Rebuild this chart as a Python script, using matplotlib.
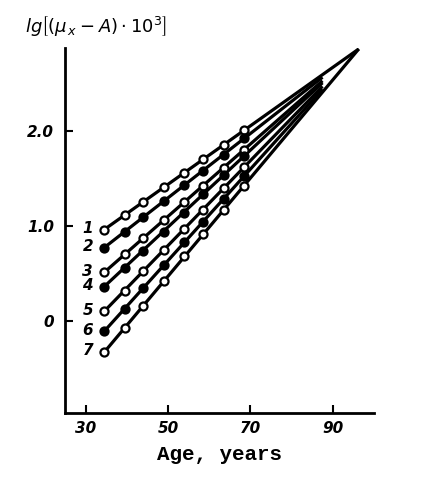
import matplotlib
matplotlib.use("Agg")
import matplotlib.pyplot as plt

# ages of the plotted points
ages = [34.5, 39.5, 44, 49, 54, 58.5, 63.5, 68.5]

# lg[(mu_x - A) * 10^3] for each curve
curve1 = [0.96, 1.11, 1.25, 1.41, 1.56, 1.70, 1.85, 2.01]
curve2 = [0.77, 0.94, 1.09, 1.26, 1.43, 1.58, 1.75, 1.92]
curve3 = [0.51, 0.70, 0.87, 1.06, 1.25, 1.42, 1.61, 1.80]
curve4 = [0.36, 0.56, 0.74, 0.94, 1.14, 1.33, 1.53, 1.73]
curve5 = [0.10, 0.32, 0.52, 0.75, 0.97, 1.17, 1.40, 1.62]
curve6 = [-0.11, 0.13, 0.35, 0.59, 0.83, 1.04, 1.28, 1.52]
curve7 = [-0.33, -0.07, 0.16, 0.42, 0.68, 0.91, 1.17, 1.42]
curves = [curve1, curve2, curve3, curve4, curve5, curve6, curve7]
labels = ["1", "2", "3", "4", "5", "6", "7"]
filled = [False, True, False, True, False, True, False]

# common point where the extrapolated lines meet
conv_age, conv_lg = 96.3, 2.86
inner_end_age = 87.5

xticks = [30, 50, 70, 90]
yticks = [0, 1.0, 2.0]
yticklabels = ["0", "1.0", "2.0"]

fig = plt.figure(figsize=(4.24, 4.8), dpi=100)
ax = fig.add_axes([65 / 424, 67 / 480, 309 / 424, 365 / 480])

for i, (vals, lab, fill) in enumerate(zip(curves, labels, filled)):
    a0, v0 = ages[0], vals[0]
    if i in (0, len(curves) - 1):
        xe, ye = conv_age, conv_lg
    else:
        t = (inner_end_age - a0) / (conv_age - a0)
        xe, ye = inner_end_age, v0 + t * (conv_lg - v0)
    ax.plot([a0, xe], [v0, ye], color="black", lw=2.3, solid_capstyle="butt", zorder=2)
    ax.plot(ages, vals, "o", ms=5.8, mec="black", mew=1.6,
            mfc="black" if fill else "white", zorder=3)
    ax.annotate(lab, (a0, v0), xytext=(-8, 1), textcoords="offset points",
                ha="right", va="center", fontsize=11, style="italic", weight="bold")

ax.set_xlim(25, 100)
ax.set_ylim(-0.968, 2.87)
ax.set_xticks(xticks)
ax.set_yticks(yticks)
ax.set_yticklabels(yticklabels)
for lbl in ax.get_xticklabels() + ax.get_yticklabels():
    lbl.set_fontstyle("italic")
    lbl.set_fontweight("bold")
    lbl.set_fontsize(11)
ax.tick_params(direction="in", length=6, width=1.5, pad=6)
ax.tick_params(axis="y", pad=8)
for s in ["top", "right"]:
    ax.spines[s].set_visible(False)
for s in ["left", "bottom"]:
    ax.spines[s].set_linewidth(2)

ax.set_xlabel("Age, years", family="Liberation Mono", weight="bold", fontsize=15, labelpad=6)
fig.text(25 / 424, 1 - 27 / 480, r"lg$\left[(\mu_{\,x} - A)\cdot 10^3\right]$",
         fontsize=13, ha="left", va="center", style="italic")

fig.savefig("out.png", dpi=100)
